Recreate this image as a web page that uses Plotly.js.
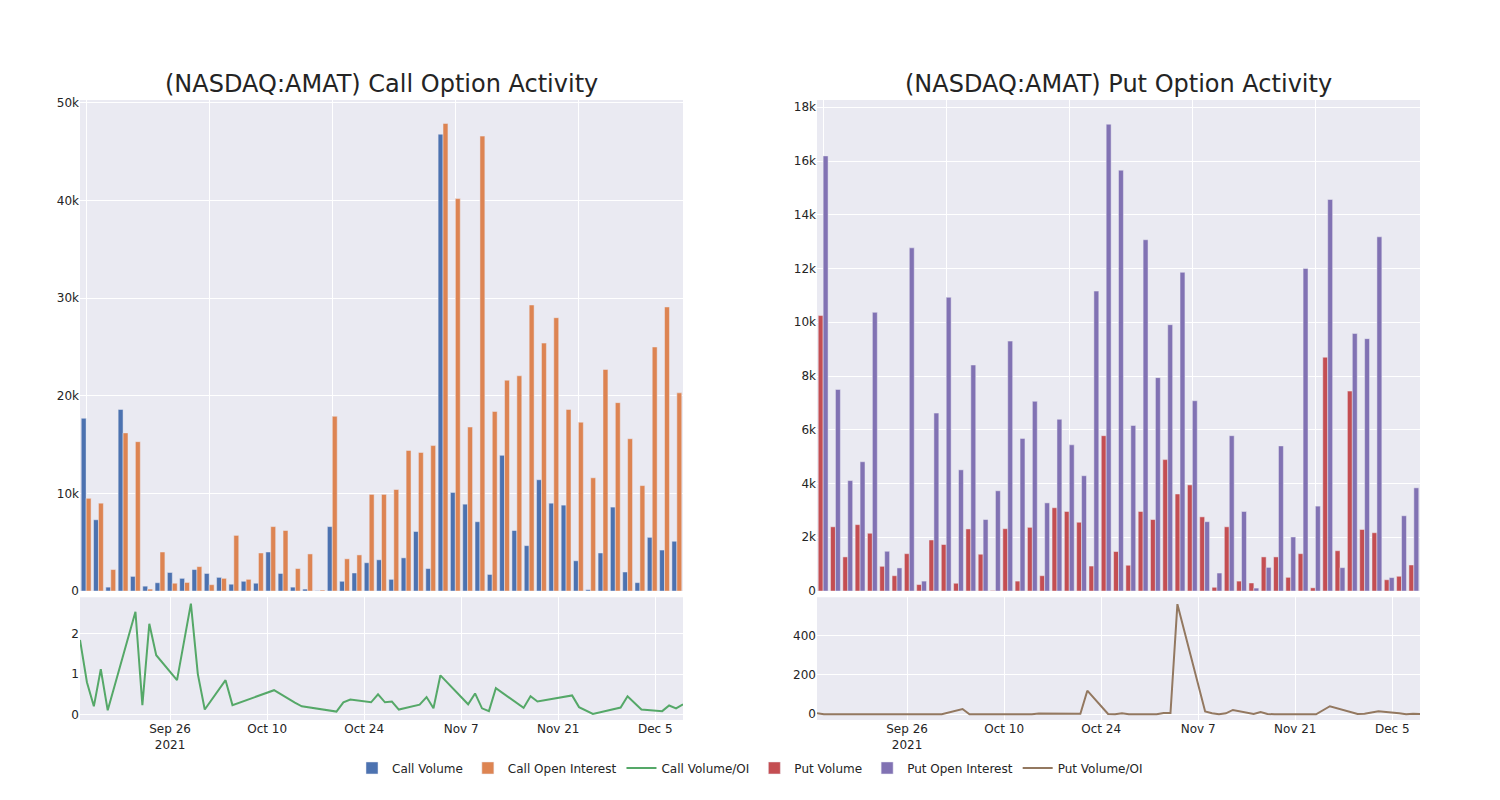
<!DOCTYPE html>
<html>
<head>
<meta charset="utf-8">
<script src="https://cdn.plot.ly/plotly-3.0.1.min.js"></script>
<style>html,body{margin:0;padding:0;background:#fff;}#chart{width:1500px;height:800px;}</style>
</head>
<body>
<div id="chart"></div>
<script>
const dates = ['2021-09-13','2021-09-14','2021-09-15','2021-09-16','2021-09-17','2021-09-21','2021-09-22','2021-09-23','2021-09-24','2021-09-27',
  '2021-09-29','2021-09-30','2021-10-01','2021-10-04','2021-10-05','2021-10-11','2021-10-14','2021-10-15','2021-10-20','2021-10-21',
  '2021-10-22','2021-10-25','2021-10-26','2021-10-27','2021-10-28','2021-10-29','2021-11-01','2021-11-02','2021-11-03','2021-11-04',
  '2021-11-08','2021-11-09','2021-11-10','2021-11-11','2021-11-12','2021-11-15','2021-11-16','2021-11-17','2021-11-18','2021-11-23',
  '2021-11-24','2021-11-26','2021-11-30','2021-12-01','2021-12-03','2021-12-06','2021-12-07','2021-12-08','2021-12-09'];

const callVolume = [17700,7300,400,18600,1500,500,850,1900,1300,2200,
  1800,1400,700,1000,800,4000,1800,400,200,30,
  6600,1000,1850,2900,3200,1200,3400,6100,2300,46800,
  10100,8900,7100,1700,13900,6200,4650,11400,9000,8800,
  3100,140,3900,8600,1950,860,5500,4200,5100];
const callOI = [9500,9000,2200,16200,15300,200,4000,800,880,2500,
  650,1300,5700,1200,3900,6600,6200,2300,3800,100,
  17900,3300,3700,9900,9900,10400,14400,14200,14900,47900,
  40200,16800,46600,18400,21600,22050,29300,25400,28000,18600,
  17300,11600,22700,19300,15600,10800,25000,29100,20300];
const callRatio = [1.85,0.8,0.2,1.12,0.1,2.55,0.23,2.25,1.47,0.85,
  2.75,1.0,0.12,0.85,0.23,0.6,0.29,0.2,0.07,0.3,
  0.37,0.3,0.5,0.3,0.32,0.12,0.24,0.43,0.15,0.97,
  0.25,0.52,0.15,0.08,0.65,0.28,0.16,0.45,0.32,0.47,
  0.18,0.01,0.17,0.45,0.12,0.08,0.22,0.15,0.25];

const putVolume = [10250,2390,1270,2470,2150,920,570,1390,240,1900,
  1730,290,2310,1370,20,2320,370,2370,570,3100,
  2960,2560,930,5780,1470,960,2960,2660,4890,3610,
  3950,2760,140,2390,370,300,1270,1270,510,1390,
  120,8700,1500,7440,2290,2170,420,550,970];
const putOI = [16190,7500,4110,4810,10370,1480,860,12770,370,6620,
  10930,4510,8410,2660,3730,9300,5680,7060,3280,6390,
  5440,4290,11160,17370,15660,6160,13070,7940,9910,11860,
  7080,2580,670,5780,2960,110,880,5400,2010,12000,
  3160,14570,870,9580,9390,13180,500,2800,3840];
const putRatio = [5,0,0,0,0,0,0,0,0,0,
  0,0,0,27,0,0,0,4,4,3,
  120,2,0,5,0,0,0,6,6,560,
  14,5,0,5,22,2,12,2,0,0,
  0,41,2,3,15,5,0,3,2];

const titles = ['(NASDAQ:AMAT) Call Option Activity', '(NASDAQ:AMAT) Put Option Activity'];

const C = {
  callVol: 'rgb(76,114,176)', callOI: 'rgb(221,132,82)', callRatio: 'rgb(85,168,104)',
  putVol: 'rgb(196,78,82)', putOI: 'rgb(129,114,179)', putRatio: 'rgb(147,120,96)'
};
const barLine = {color: 'rgb(234,234,242)', width: 0.5};

const traces = [
  {type: 'bar', name: 'Call Volume', x: dates, y: callVolume, xaxis: 'x', yaxis: 'y', marker: {color: C.callVol, line: barLine}},
  {type: 'bar', name: 'Call Open Interest', x: dates, y: callOI, xaxis: 'x', yaxis: 'y', marker: {color: C.callOI, line: barLine}},
  {type: 'scatter', mode: 'lines', name: 'Call Volume/OI', x: dates, y: callRatio, xaxis: 'x2', yaxis: 'y2', line: {color: C.callRatio, width: 2}},
  {type: 'bar', name: 'Put Volume', x: dates, y: putVolume, xaxis: 'x3', yaxis: 'y3', marker: {color: C.putVol, line: barLine}},
  {type: 'bar', name: 'Put Open Interest', x: dates, y: putOI, xaxis: 'x3', yaxis: 'y3', marker: {color: C.putOI, line: barLine}},
  {type: 'scatter', mode: 'lines', name: 'Put Volume/OI', x: dates, y: putRatio, xaxis: 'x4', yaxis: 'y4', line: {color: C.putRatio, width: 2}}
];

const gridTicks = dates.filter((d, i) => i % 10 === 0);
const catAxis = (domain, anchor) => ({
  domain: domain, anchor: anchor, type: 'category', range: [-0.5, dates.length - 0.5],
  tickmode: 'array', tickvals: gridTicks, showticklabels: false,
  showgrid: true, gridcolor: 'white', gridwidth: 1, showline: false, zeroline: false, ticks: ''
});
const dateAxis = (domain, anchor) => ({
  domain: domain, anchor: anchor, type: 'date', range: [dates[0], dates[dates.length - 1]],
  tick0: '2021-09-26', dtick: 14 * 86400000,
  showgrid: true, gridcolor: 'white', gridwidth: 1, showline: false, zeroline: false, ticks: '',
  tickfont: {size: 12}
});
const valAxis = (domain, anchor, range, dtick) => ({
  domain: domain, anchor: anchor, range: range, dtick: dtick,
  showgrid: true, gridcolor: 'white', gridwidth: 1, showline: false, zeroline: false, ticks: '',
  tickfont: {size: 12}
});

const layout = {
  width: 1500, height: 800,
  margin: {l: 80, r: 80, t: 100, b: 80},
  paper_bgcolor: 'white', plot_bgcolor: 'rgb(234,234,242)',
  font: {family: '"DejaVu Sans", verdana, arial, sans-serif', color: 'rgb(36,36,36)', size: 12},
  barmode: 'group', bargap: 0.2, bargroupgap: 0,
  showlegend: true,
  legend: {orientation: 'h', x: 0.5, xanchor: 'center', y: -0.054, yanchor: 'top', font: {size: 12}},
  xaxis: catAxis([0, 0.45], 'y'),
  yaxis: valAxis([0.208, 1], 'x', [0, 50300], 10000),
  xaxis2: dateAxis([0, 0.45], 'y2'),
  yaxis2: valAxis([0, 0.198], 'x2', [-0.14, 2.91], 1),
  xaxis3: catAxis([0.55, 1], 'y3'),
  yaxis3: valAxis([0.208, 1], 'x3', [0, 18270], 2000),
  xaxis4: dateAxis([0.55, 1], 'y4'),
  yaxis4: valAxis([0, 0.198], 'x4', [-29, 595], 200),
  annotations: [
    {text: titles[0], xref: 'paper', yref: 'paper', x: 0.225, y: 1, xanchor: 'center', yanchor: 'bottom', showarrow: false, font: {size: 24}},
    {text: titles[1], xref: 'paper', yref: 'paper', x: 0.775, y: 1, xanchor: 'center', yanchor: 'bottom', showarrow: false, font: {size: 24}}
  ]
};

Plotly.newPlot('chart', traces, layout, {displayModeBar: false, responsive: false});
</script>
</body>
</html>
